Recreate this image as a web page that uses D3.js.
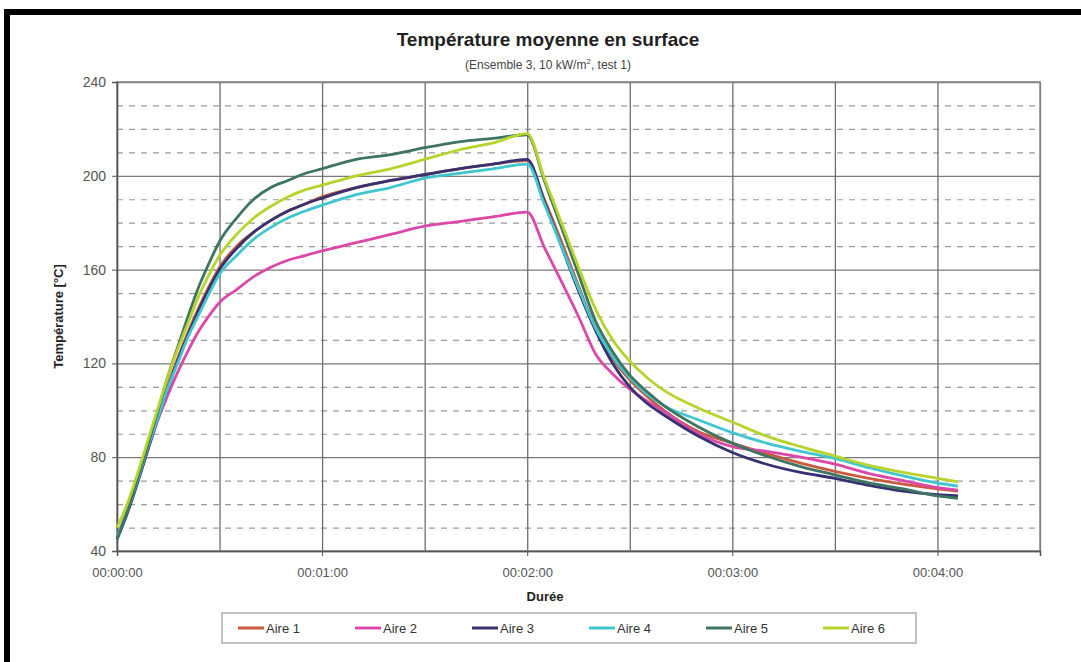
<!DOCTYPE html>
<head>
  <meta charset="utf-8">
  <script src="https://d3js.org/d3.v7.min.js"></script>
  <style>
body {
    margin: 0;
    background-color: white;
}
svg {
    display: block;
    background-color: white;
    font-family: "Liberation Sans", Arial, sans-serif;
}
  </style>
</head>

<body>
<svg width="1081" height="662"></svg>

<script>
// time in seconds since start of test
var time = [0, 3, 6, 9, 12, 15, 18, 21, 24, 27, 30, 35, 40, 45, 50, 55, 60, 70, 80, 90, 100, 110, 120,
            125, 130, 135, 140, 145, 150, 155, 160, 170, 180, 190, 200, 210, 220, 230, 240, 246];

var aire1 = [46, 57, 70, 84, 98, 111, 123, 134, 144, 153, 161, 170, 176, 181, 185, 188, 191, 195, 198, 200.5, 203, 205, 206.5,
             190, 172, 153, 135, 122, 113, 106, 100, 91, 86, 81.5, 77.5, 74, 71, 68.5, 66.5, 65.5];
var aire2 = [46, 57, 70, 83, 96, 107, 117, 126, 134, 140.5, 146, 151.5, 157, 161, 164, 166, 168, 171.5, 175, 178.5, 180.5, 182.5, 184.5,
             169.5, 155, 140, 124, 115.5, 109, 104, 99.5, 90, 84.5, 82.5, 80, 77, 73, 70, 67, 66];
var aire3 = [45, 56, 69, 83, 97, 110, 122, 133, 143, 152, 160, 169, 176, 181, 185, 188, 190.5, 195, 198, 200.5, 203, 205, 207,
             189, 170, 151, 134, 120, 110, 103, 98, 89, 82, 77, 73.5, 71, 68, 65.5, 64, 63.5];
var aire4 = [46, 57, 70, 84, 97, 110, 121, 132, 141, 150, 158, 166, 173, 178, 182, 185, 187.5, 192, 195, 199, 201, 203, 205,
             188, 170, 152, 135, 123, 114, 107, 102, 96, 90.5, 86, 82.5, 79.5, 75.5, 72, 69, 67.7];
var aire5 = [45, 57, 71, 85, 100, 115, 128, 141, 153, 163, 172, 182, 190, 195, 198, 201, 203, 207, 209, 212, 214.5, 216, 217.5,
             198, 178, 158, 138, 125, 115, 108, 102, 93, 86, 80.5, 76, 72.5, 69, 66.5, 63.5, 62.5];
var aire6 = [50, 60, 73, 87, 101, 115, 127, 138, 149, 158, 166, 175, 182, 187, 191, 194, 196, 200, 203, 207, 211, 214, 218,
             199, 180, 161, 143, 130, 121, 114, 108.5, 101, 95, 89, 84.5, 80.5, 76.5, 73.5, 71, 69.5];

var seriesNames = ["Aire 1", "Aire 2", "Aire 3", "Aire 4", "Aire 5", "Aire 6"];
var seriesValues = [aire1, aire2, aire3, aire4, aire5, aire6];
var seriesColors = ["#c95a3e", "#dc48a8", "#363170", "#3fc6cf", "#3e7561", "#b6d42c"];

var yTicks = [40, 80, 120, 160, 200, 240];
var xTickLabels = ["00:00:00", "00:01:00", "00:02:00", "00:03:00", "00:04:00"];

var margin = {top: 82, right: 41, bottom: 111, left: 117};
var width = 1081 - margin.left - margin.right;
var height = 662 - margin.top - margin.bottom;

var svg = d3.select("svg");

// scanned page frame
svg.append("rect").attr("x", 4).attr("y", 9).attr("width", 1081).attr("height", 6).attr("fill", "#000");
svg.append("rect").attr("x", 4).attr("y", 9).attr("width", 6).attr("height", 662).attr("fill", "#000");

var x = d3.scaleLinear().domain([0, 270]).range([0, width]);
var y = d3.scaleLinear().domain([40, 240]).range([height, 0]);

var g = svg.append("g").attr("transform", "translate(" + margin.left + "," + margin.top + ")");

// minor dashed gridlines every 10 degrees
g.append("g")
  .call(d3.axisLeft(y).tickValues(d3.range(50, 240, 10).filter(function(v) { return v % 40 != 0; }))
        .tickSize(-width).tickFormat(""))
  .call(function(a) {
    a.select(".domain").remove();
    a.selectAll("line").attr("stroke", "#9a9a9a").attr("stroke-dasharray", "6,6").attr("stroke-width", 1.2);
  });

// major horizontal gridlines
g.append("g")
  .call(d3.axisLeft(y).tickValues(yTicks).tickSize(-width).tickFormat(""))
  .call(function(a) {
    a.select(".domain").remove();
    a.selectAll("line").attr("stroke", "#7a7a7a").attr("stroke-width", 1.3);
  });

// vertical gridlines every 30 s
g.append("g")
  .attr("transform", "translate(0," + height + ")")
  .call(d3.axisBottom(x).tickValues(d3.range(0, 271, 30)).tickSize(-height).tickFormat(""))
  .call(function(a) {
    a.select(".domain").remove();
    a.selectAll("line").attr("stroke", "#6e6e6e").attr("stroke-width", 1.3);
  });

// plot border
g.append("rect").attr("width", width).attr("height", height)
  .attr("fill", "none").attr("stroke", "#888").attr("stroke-width", 1.5);

// y axis
g.append("g")
  .call(d3.axisLeft(y).tickValues(yTicks).tickSize(5).tickPadding(6))
  .call(function(a) {
    a.select(".domain").attr("stroke", "#555").attr("stroke-width", 1.5);
    a.selectAll("line").attr("stroke", "#555");
    a.selectAll("text").attr("font-size", 14).attr("fill", "#555").attr("font-family", "Liberation Sans");
  });

// x axis, labels every minute
g.append("g")
  .attr("transform", "translate(0," + height + ")")
  .call(d3.axisBottom(x).tickValues([0, 60, 120, 180, 240]).tickSize(5).tickPadding(12)
        .tickFormat(function(d, i) { return xTickLabels[i]; }))
  .call(function(a) {
    a.select(".domain").attr("stroke", "#555").attr("stroke-width", 1.5);
    a.selectAll("line").attr("stroke", "#555");
    a.selectAll("text").attr("font-size", 13).attr("fill", "#555").attr("font-family", "Liberation Sans");
  });

var line = d3.line()
  .x(function(d, i) { return x(time[i]); })
  .y(function(d) { return y(d); })
  .curve(d3.curveMonotoneX);

g.selectAll(".serie")
  .data(seriesValues)
  .enter()
  .append("path")
  .attr("class", "serie")
  .attr("d", line)
  .attr("fill", "none")
  .attr("stroke", function(d, i) { return seriesColors[i]; })
  .attr("stroke-width", 2.8)
  .attr("stroke-linejoin", "round");

// titles
svg.append("text").attr("x", 548).attr("y", 46).attr("text-anchor", "middle")
  .attr("font-size", 19).attr("font-weight", "bold").attr("fill", "#222")
  .text("Température moyenne en surface");

var sub = svg.append("text").attr("x", 548).attr("y", 69).attr("text-anchor", "middle")
  .attr("font-size", 12).attr("fill", "#444");
sub.append("tspan").text("(Ensemble 3, 10 kW/m");
sub.append("tspan").attr("dy", -5).attr("font-size", 8).text("2");
sub.append("tspan").attr("dy", 5).text(", test 1)");

svg.append("text")
  .attr("transform", "translate(63," + (margin.top + height / 2) + ") rotate(-90)")
  .attr("text-anchor", "middle").attr("font-size", 13).attr("font-weight", "bold").attr("fill", "#222")
  .text("Température [°C]");

svg.append("text").attr("x", 545).attr("y", 601).attr("text-anchor", "middle")
  .attr("font-size", 13).attr("font-weight", "bold").attr("fill", "#222")
  .text("Durée");

// legend
var legend = svg.append("g").attr("transform", "translate(222,613)");
legend.append("rect").attr("width", 694).attr("height", 30)
  .attr("fill", "white").attr("stroke", "#999").attr("stroke-width", 1.2);

var item = legend.selectAll(".item")
  .data(seriesNames)
  .enter()
  .append("g")
  .attr("class", "item")
  .attr("transform", function(d, i) { return "translate(" + (16 + i * 117) + ",15)"; });

item.append("line").attr("x1", 0).attr("x2", 26).attr("y1", 0).attr("y2", 0)
  .attr("stroke", function(d, i) { return seriesColors[i]; }).attr("stroke-width", 3);
item.append("text").attr("x", 28).attr("y", 5).attr("font-size", 13).attr("fill", "#333")
  .text(function(d) { return d; });
</script>
</body>
</html>
